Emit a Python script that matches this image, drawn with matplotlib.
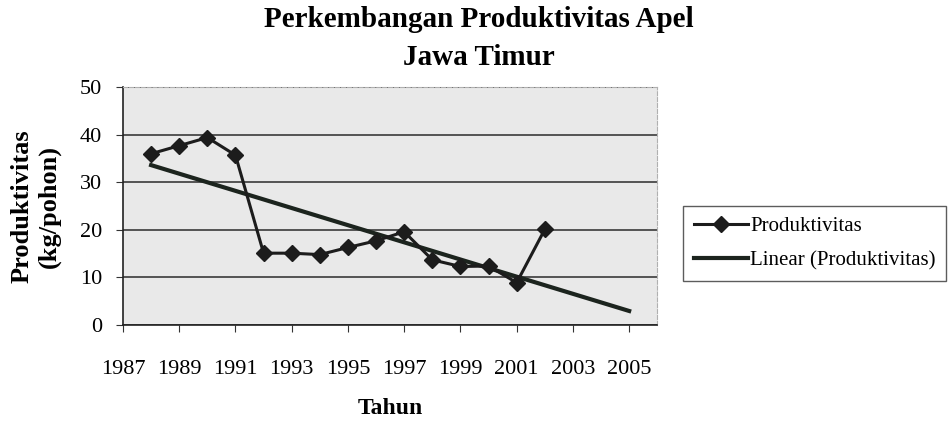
import numpy as np
import matplotlib
matplotlib.use('Agg')
import matplotlib.pyplot as plt

# data
tahun = [1988, 1989, 1990, 1991, 1992, 1993, 1994, 1995,
         1996, 1997, 1998, 1999, 2000, 2001, 2002]
produktivitas = [36.0, 37.7, 39.4, 35.7, 15.1, 15.1, 14.8, 16.3,
                 17.7, 19.6, 13.7, 12.3, 12.4, 8.9, 20.1]
x_ticks = list(range(1987, 2006, 2))
y_ticks = [0, 10, 20, 30, 40, 50]

plt.rcParams['font.family'] = ['Liberation Serif', 'DejaVu Serif']

fig = plt.figure(figsize=(9.49, 4.21), dpi=100)
ax = fig.add_axes([0.1296, 0.228, 0.563, 0.565])
ax.set_facecolor('#e9e9e9')

# garis tren linear, diperpanjang sampai 2005
k = np.polyfit(tahun, produktivitas, 1)
x_tren = np.array([tahun[0], 2005])
ax.plot(x_tren, np.polyval(k, x_tren), color='#1c241e', lw=3,
        label='Linear (Produktivitas)', zorder=3)
ax.plot(tahun, produktivitas, color='#1c1c1c', lw=2.2, marker='D',
        markersize=8, label='Produktivitas', zorder=4)

ax.set_xlim(1987, 2006)
ax.set_ylim(0, 50)
ax.set_xticks(x_ticks)
ax.set_yticks(y_ticks)
ax.tick_params(labelsize=16, direction='out', length=5, color='#333333')
ax.tick_params(axis='x', pad=20)
ax.tick_params(axis='y', pad=10)
ax.grid(axis='y', color='#3a3a3a', lw=1.2)
ax.set_axisbelow(True)
for s in ['top', 'right']:
    ax.spines[s].set_color('#b0b0b0')
    ax.spines[s].set_linestyle('--')
for s in ['left', 'bottom']:
    ax.spines[s].set_color('#222222')
    ax.spines[s].set_linewidth(1.2)

ax.set_xlabel('Tahun', fontsize=17, fontweight='bold', labelpad=14)
ax.set_ylabel('Produktivitas\n(kg/pohon)', fontsize=19, fontweight='bold',
              labelpad=14, linespacing=1.2)
fig.text(0.505, 0.985, 'Perkembangan Produktivitas Apel\nJawa Timur',
         ha='center', va='top', fontsize=21, fontweight='bold',
         linespacing=1.5)

h, l = ax.get_legend_handles_labels()
leg = fig.legend(h[::-1], l[::-1], loc='upper left',
                 bbox_to_anchor=(0.709, 0.535), fontsize=15, frameon=True,
                 fancybox=False, edgecolor='#333333', handlelength=2.6,
                 handletextpad=0.1, borderpad=0.5, labelspacing=0.7)
leg.get_frame().set_linewidth(1.0)

fig.savefig('out.png', dpi=100)
